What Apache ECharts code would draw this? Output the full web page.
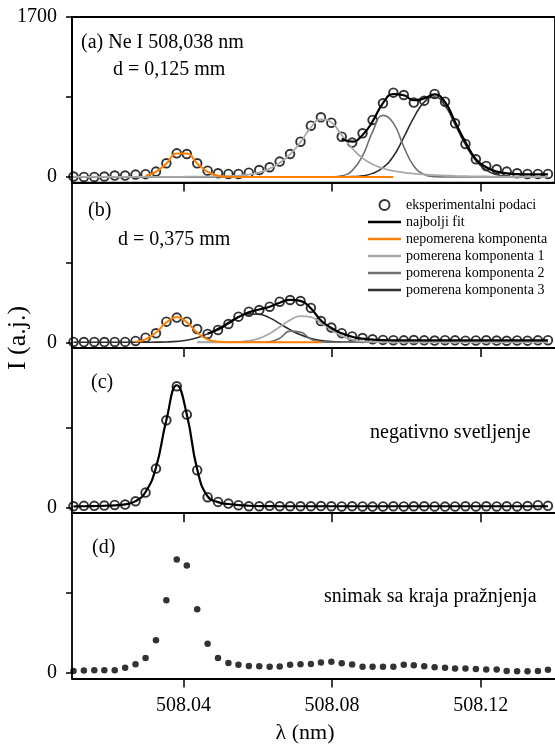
<!DOCTYPE html>
<html><head><meta charset="utf-8">
<script src="https://cdn.jsdelivr.net/npm/echarts@6/dist/echarts.min.js"></script>
<style>html,body{margin:0;padding:0;background:#fff}#c{width:555px;height:746px}</style>
</head><body><div id="c"></div>
<script>
// wavelengths of the detector pixels (nm)
const lambda = [508.0104,508.0132,508.0160,508.0187,508.0215,508.0243,508.0271,508.0298,508.0326,508.0354,
  508.0382,508.0409,508.0437,508.0465,508.0493,508.0521,508.0548,508.0576,508.0604,508.0632,
  508.0659,508.0687,508.0715,508.0743,508.0770,508.0798,508.0826,508.0854,508.0882,508.0909,
  508.0937,508.0965,508.0993,508.1020,508.1048,508.1076,508.1104,508.1131,508.1159,508.1187,
  508.1215,508.1243,508.1270,508.1298,508.1326,508.1354,508.1381];
const xTicks = [508.04, 508.08, 508.12];
const yTicksTop = [0, 850, 1700];
const yTicks = [0, 850];
const yLabelsTop = [0, 1700];
const yLabels = [0];

// panel (a) d = 0,125 mm
const expA = [5,0,0,5,15,15,25,30,57,145,251,244,145,67,39,32,32,46,74,103,163,244,375,545,634,577,428,365,464,606,783,896,871,790,811,882,800,570,351,188,117,81,57,39,32,32,32];
const fitA = [null,null,null,null,null,null,null,null,null,null,null,null,null,null,null,null,null,null,null,null,null,null,null,null,null,null,
  405,375,446,590,785,880,868,815,835,878,795,585,370,190,103,57,39,30,28,27,27];
const unshiftedA = [null,null,null,null,null,null,null,13,55,143,248,248,143,55,13,2,0,0,0,0,0,0,0,0,0,0,0,0,0,0,0,0,
  null,null,null,null,null,null,null,null,null,null,null,null,null,null,null];
const shift1A = [0,0,0,0,0,0,0,0,0,0,1,2,3,4,6,9,15,26,48,88,150,240,370,525,612,580,445,305,200,135,92,65,47,35,26,20,15,11,8,6,5,4,3,2,2,1,1];
const shift2A = [0,0,0,0,0,0,0,0,0,0,0,0,0,0,0,0,0,0,0,0,0,0,0,0,0,2,13,68,225,479,654,572,321,116,27,4,0,0,0,0,0,0,0,0,0,0,0];
const shift3A = [0,0,0,0,0,0,0,0,0,0,0,0,0,0,0,0,0,0,0,0,0,0,0,0,0,0,0,3,12,38,100,220,420,630,795,850,758,560,343,173,73,25,7,2,0,0,0];

// panel (b) d = 0,375 mm
const expB = [3,2,3,2,3,4,14,49,95,219,262,219,141,88,131,194,272,325,343,378,431,449,438,365,225,157,97,62,45,32,25,22,20,24,20,18,22,20,17,19,21,18,16,19,17,20,22];
const fitB = [null,null,null,null,null,null,null,null,null,null,null,null,null,
  92,135,200,268,318,348,378,420,450,440,360,232,152,95,58,38,28,23,21,20,20,20,20,20,20,20,20,20,20,20,20,20,20,20];
const unshiftedB = [null,null,null,null,null,null,6,31,103,211,268,211,103,31,6,1,0,0,0,0,0,0,0,0,0,
  null,null,null,null,null,null,null,null,null,null,null,null,null,null,null,null,null,null,null,null,null,null];
const shift1B = [null,null,null,null,null,null,null,null,null,null,null,null,
  0,0,0,0,5,16,42,93,163,235,277,266,207,132,68,28,9,3,1,0,0,0,0,0,0,0,0,0,0,0,0,0,0,0,0];
const shift2B = [null,null,null,null,null,null,null,null,null,null,null,null,
  0,0,0,0,0,0,0,6,43,118,108,32,4,0,0,0,0,0,0,0,0,0,0,0,0,0,0,0,0,0,0,0,0,0,0];
const shift3B = [0,0,0,0,0,0,0,0,1,3,9,22,48,89,146,211,269,302,298,259,198,134,79,41,19,8,3,1,0,0,0,0,0,0,0,0,0,0,0,0,0,0,0,0,0,0,0];

// panel (c) negativno svetljenje
const expC = [14,18,18,21,28,32,67,159,414,928,1289,988,397,110,60,42,25,14,14,18,14,14,14,14,16,14,12,14,12,10,12,14,12,14,14,12,10,12,14,12,14,12,14,12,16,25,18];
const fitC = [12,14,16,19,24,34,68,165,425,930,1300,990,405,118,58,38,26,19,16,15,14,14,14,14,14,14,14,14,14,14,14,14,14,14,14,14,14,14,14,14,14,14,14,14,14,14,14];

// panel (d) snimak sa kraja praznjenja
const expD = [21,25,28,28,28,53,92,159,347,772,1204,1140,677,308,159,106,85,74,71,64,67,85,92,95,110,117,103,89,64,64,64,64,85,81,71,60,53,46,46,42,35,35,21,18,18,21,32];

const names = {
  exp: 'eksperimentalni podaci', fit: 'najbolji fit', un: 'nepomerena komponenta',
  s1: 'pomerena komponenta 1', s2: 'pomerena komponenta 2', s3: 'pomerena komponenta 3'
};
const colors = { fit: '#000000', un: '#ff8000', s1: '#aaaaaa', s2: '#707070', s3: '#2e2e2e' };
const FONT = "'Liberation Serif', 'Times New Roman', serif";

const pairs = arr => lambda.map((x, i) => [x, arr[i] === null ? '-' : arr[i]]);

const tops = [17, 182.3, 347.6, 512.9];
const grid = tops.map((t, i) => ({
  left: 72, top: t, width: 486, height: 165.6,
  show: i === 0, borderColor: '#000', borderWidth: 1.8, backgroundColor: 'transparent'
}));
const xAxis = tops.map((t, i) => ({
  gridIndex: i, type: 'value', min: 508.01, max: 508.14,
  axisLine: { show: true, onZero: false, lineStyle: { color: '#000', width: 1.8 } },
  axisTick: { show: true, customValues: xTicks, length: 9, inside: false, lineStyle: { color: '#000', width: 1.5 } },
  axisLabel: { show: i === 3, customValues: xTicks, formatter: v => Number(v).toFixed(2), margin: 17,
    fontSize: 20, fontFamily: FONT, color: '#000' },
  splitLine: { show: false }
}));
const yAxis = tops.map((t, i) => ({
  gridIndex: i, type: 'value', min: -60, max: 1700,
  axisLine: { show: true, onZero: false, lineStyle: { color: '#000', width: 1.8 } },
  axisTick: { show: true, customValues: i === 0 ? yTicksTop : yTicks, length: 6, lineStyle: { color: '#000', width: 1.5 } },
  axisLabel: { show: true, customValues: i === 0 ? yLabelsTop : yLabels, margin: 15,
    formatter: v => String(v), fontSize: 20, fontFamily: FONT, color: '#000' },
  splitLine: { show: false }
}));

function line(gi, name, color, arr, width) {
  return { type: 'line', name, xAxisIndex: gi, yAxisIndex: gi, data: pairs(arr),
    showSymbol: false, symbol: 'none', smooth: 0.5, color, silent: true,
    lineStyle: { color, width }, emphasis: { disabled: true } };
}
function circles(gi, arr) {
  return { type: 'scatter', name: names.exp, xAxisIndex: gi, yAxisIndex: gi, data: pairs(arr),
    symbol: 'circle', symbolSize: 8.6, silent: true, emphasis: { disabled: true },
    itemStyle: { color: 'rgba(255,255,255,0)', borderColor: '#000', borderWidth: 1.9 } };
}

const series = [
  line(0, names.s3, colors.s3, shift3A, 1.6),
  line(0, names.s2, colors.s2, shift2A, 1.6),
  line(0, names.s1, colors.s1, shift1A, 1.8),
  line(0, names.un, colors.un, unshiftedA, 2),
  line(0, names.fit, colors.fit, fitA, 2.2),
  circles(0, expA),
  line(1, names.s3, colors.s3, shift3B, 1.6),
  line(1, names.s2, colors.s2, shift2B, 1.6),
  line(1, names.s1, colors.s1, shift1B, 1.8),
  line(1, names.un, colors.un, unshiftedB, 2),
  line(1, names.fit, colors.fit, fitB, 2.2),
  circles(1, expB),
  line(2, names.fit, colors.fit, fitC, 2.2),
  circles(2, expC),
  { type: 'scatter', name: 'snimak', xAxisIndex: 3, yAxisIndex: 3, data: pairs(expD),
    symbol: 'circle', symbolSize: 6.5, silent: true, itemStyle: { color: '#000' } }
];

const bar = 'path://M0,0L33,0L33,2.6L0,2.6Z';
const legend = {
  orient: 'vertical', left: 368, top: 197.5, padding: 0, itemWidth: 33, itemHeight: 10, itemGap: 2,
  selectedMode: false,
  textStyle: { fontFamily: FONT, fontSize: 14, color: '#000', lineHeight: 15 },
  data: [
    { name: names.exp, icon: 'circle', itemStyle: { color: 'rgba(255,255,255,0)', borderColor: '#000', borderWidth: 1.9 } },
    { name: names.fit, icon: bar, itemStyle: { color: colors.fit, borderWidth: 0 } },
    { name: names.un, icon: bar, itemStyle: { color: colors.un, borderWidth: 0 } },
    { name: names.s1, icon: bar, itemStyle: { color: colors.s1, borderWidth: 0 } },
    { name: names.s2, icon: bar, itemStyle: { color: colors.s2, borderWidth: 0 } },
    { name: names.s3, icon: bar, itemStyle: { color: colors.s3, borderWidth: 0 } }
  ]
};

function txt(x, y, text, size, extra) {
  return Object.assign({ type: 'text', x, y, silent: true,
    style: { text, fontSize: size, fontFamily: FONT, fill: '#000', align: 'left', verticalAlign: 'middle' } }, extra || {});
}
const graphic = [
  txt(81, 43, '(a) Ne I 508,038 nm', 20),
  txt(113, 70, 'd = 0,125 mm', 20),
  txt(88, 211, '(b)', 20),
  txt(118, 240, 'd = 0,375 mm', 20),
  txt(91, 383, '(c)', 20),
  txt(370, 433, 'negativno svetljenje', 20),
  txt(92, 548, '(d)', 20),
  txt(324, 597, 'snimak sa kraja pražnjenja', 20),
  { type: 'text', x: 18, y: 338, rotation: Math.PI / 2, silent: true,
    style: { text: 'I (a.j.)', fontSize: 26, fontFamily: FONT, fill: '#000', align: 'center', verticalAlign: 'middle' } },
  { type: 'text', x: 305, y: 733, silent: true,
    style: { text: 'λ (nm)', fontSize: 22, fontFamily: FONT, fill: '#000', align: 'center', verticalAlign: 'middle' } }
];

const chart = echarts.init(document.getElementById('c'), null, { renderer: 'canvas' });
chart.setOption({
  animation: false, backgroundColor: '#fff',
  grid, xAxis, yAxis, series, legend, graphic
});
</script></body></html>
